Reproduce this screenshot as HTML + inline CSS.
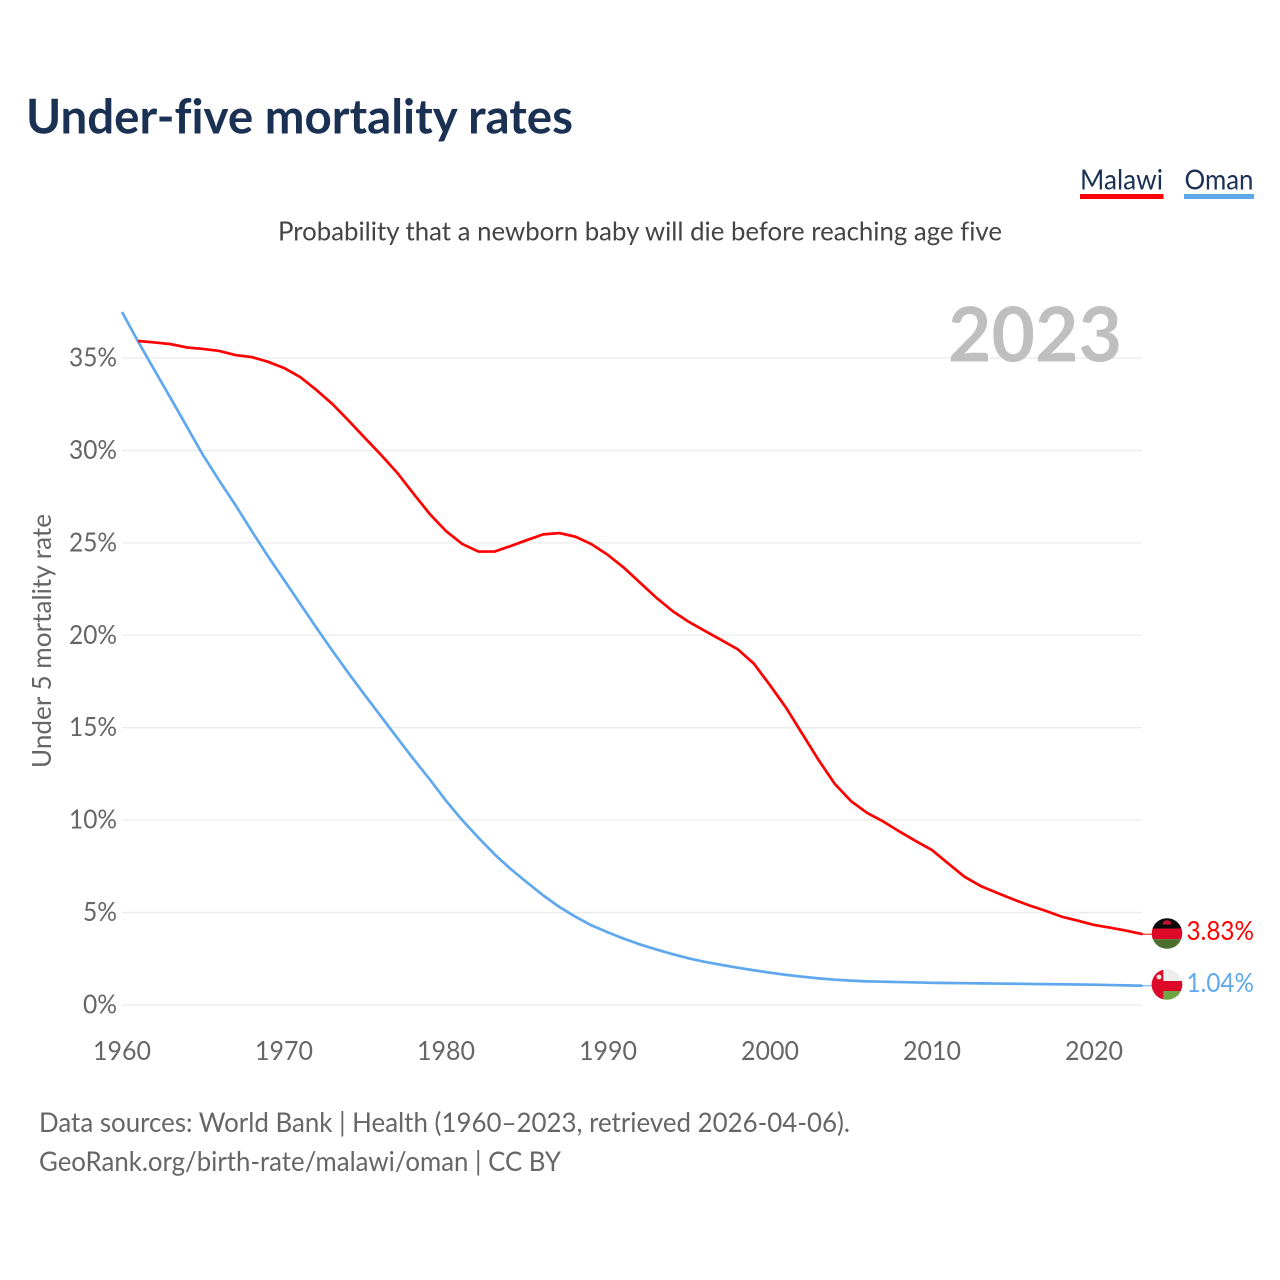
<!DOCTYPE html>
<html lang="en">
<head>
<meta charset="utf-8">
<title>Under-five mortality rates</title>
<style>
html,body{margin:0;padding:0;background:#fff;}
svg{display:block;font-family:"Lato","Carlito","Liberation Sans",sans-serif;font-variant-ligatures:none;}
</style>
</head>
<body>
<svg id="chart" xmlns="http://www.w3.org/2000/svg" width="1280" height="1280" viewBox="0 0 1280 1280">
  <defs>
    <clipPath id="clip-malawi"><circle cx="1167" cy="933.5" r="15.3"/></clipPath>
    <clipPath id="clip-oman"><circle cx="1167" cy="984.5" r="15.3"/></clipPath>
  </defs>
  <rect width="1280" height="1280" fill="#fff"/>
  <text x="26" y="133.5" font-size="48" font-weight="700" fill="#1a3153" textLength="547" lengthAdjust="spacingAndGlyphs">Under-five mortality rates</text>

  <text x="1080" y="189.5" font-size="28" fill="#1a3153" textLength="83" lengthAdjust="spacingAndGlyphs">Malawi</text>
  <rect x="1080" y="194" width="83.5" height="5" fill="#ff0000"/>
  <text x="1184.5" y="189.5" font-size="28" fill="#1a3153" textLength="69" lengthAdjust="spacingAndGlyphs">Oman</text>
  <rect x="1184" y="194" width="70" height="5" fill="#5fa8ee"/>

  <text x="278" y="240.5" font-size="26.5" fill="#444" textLength="724" lengthAdjust="spacingAndGlyphs">Probability that a newborn baby will die before reaching age five</text>

  <g id="grid"></g>
  <text x="948" y="361.5" font-size="76" font-weight="700" fill="#bfbfbf" textLength="174" lengthAdjust="spacingAndGlyphs">2023</text>
  <g id="y-ticks"></g>
  <g id="x-ticks"></g>
  <text transform="translate(51,768) rotate(-90)" x="0" y="0" font-size="26.5" fill="#666" textLength="254" lengthAdjust="spacingAndGlyphs">Under 5 mortality rate</text>

  <g id="series"></g>

  <g clip-path="url(#clip-malawi)">
    <rect x="1150" y="917" width="34" height="11.5" fill="#0b0b0b"/>
    <rect x="1150" y="928.5" width="34" height="10.7" fill="#dc0a28"/>
    <rect x="1150" y="939.2" width="34" height="11" fill="#4d6f2d"/>
    <path d="M1162.5 924.5 L1163.5 921.5 L1167 920 L1170.5 921.5 L1171.5 924.5 Z" fill="#c8102e"/>
  </g>
  <g clip-path="url(#clip-oman)">
    <rect x="1150" y="968" width="34" height="13" fill="#eeeeee"/>
    <rect x="1150" y="981" width="34" height="10" fill="#dc0a28"/>
    <rect x="1150" y="991" width="34" height="11" fill="#6fa544"/>
    <rect x="1150" y="968" width="13.3" height="34" fill="#dc0a28"/>
    <circle cx="1159" cy="977" r="2.4" fill="#f3e6e6"/>
  </g>

  <text x="1186.5" y="940" font-size="26.5" fill="#ff0000" textLength="67.5" lengthAdjust="spacingAndGlyphs">3.83%</text>
  <text x="1186.5" y="992" font-size="26.5" fill="#5fa8ee" textLength="67.5" lengthAdjust="spacingAndGlyphs">1.04%</text>

  <text x="39" y="1132" font-size="27.5" fill="#666" textLength="811" lengthAdjust="spacingAndGlyphs">Data sources: World Bank | Health (1960–2023, retrieved 2026-04-06).</text>
  <text x="39" y="1171" font-size="27.5" fill="#666" textLength="522" lengthAdjust="spacingAndGlyphs">GeoRank.org/birth-rate/malawi/oman | CC BY</text>
</svg>
<script>
const yTickValues = [0, 5, 10, 15, 20, 25, 30, 35];
const xTickYears = [1960, 1970, 1980, 1990, 2000, 2010, 2020];
const malawiStartYear = 1961;
const malawiValues = [35.92,35.84,35.75,35.57,35.49,35.38,35.16,35.05,34.8,34.46,33.97,33.27,32.5,31.6,30.67,29.75,28.78,27.65,26.56,25.64,24.94,24.53,24.53,24.83,25.15,25.46,25.53,25.33,24.92,24.34,23.64,22.83,22.02,21.3,20.72,20.23,19.74,19.25,18.47,17.3,16.07,14.66,13.25,11.96,11.03,10.39,9.92,9.38,8.87,8.38,7.66,6.94,6.44,6.07,5.72,5.39,5.1,4.78,4.56,4.33,4.18,4.02,3.83];
const omanStartYear = 1960;
const omanValues = [37.49,35.88,34.35,32.83,31.29,29.75,28.37,27.05,25.65,24.29,23.0,21.7,20.41,19.15,17.93,16.75,15.6,14.44,13.3,12.2,11.05,10.0,9.05,8.15,7.35,6.63,5.93,5.3,4.77,4.3,3.93,3.58,3.27,3.0,2.75,2.52,2.33,2.17,2.02,1.88,1.75,1.63,1.53,1.44,1.37,1.32,1.28,1.26,1.24,1.22,1.2,1.19,1.18,1.17,1.16,1.15,1.14,1.13,1.12,1.11,1.1,1.08,1.06,1.04];

const NS = 'http://www.w3.org/2000/svg';
const xOf = function (year) { return 122 + (year - 1960) * 16.2; };
const yOf = function (pct) { return 1005 - pct * 18.486; };
const gridG = document.getElementById('grid');
const yG = document.getElementById('y-ticks');
const xG = document.getElementById('x-ticks');
const seriesG = document.getElementById('series');

yTickValues.forEach(function (v) {
  const line = document.createElementNS(NS, 'line');
  line.setAttribute('x1', 122);
  line.setAttribute('x2', 1142);
  line.setAttribute('y1', yOf(v));
  line.setAttribute('y2', yOf(v));
  line.setAttribute('stroke', '#ebebeb');
  line.setAttribute('stroke-width', 1.3);
  
  
  gridG.appendChild(line);

  const t = document.createElementNS(NS, 'text');
  t.textContent = v + '%';
  t.setAttribute('x', 117);
  t.setAttribute('y', yOf(v) + 8.5);
  t.setAttribute('text-anchor', 'end');
  t.setAttribute('font-size', 26.5);
  t.setAttribute('fill', '#666');
  t.setAttribute('textLength', v < 10 ? 34 : 48);
  t.setAttribute('lengthAdjust', 'spacingAndGlyphs');
  
  
  yG.appendChild(t);
});

xTickYears.forEach(function (y) {
  const t = document.createElementNS(NS, 'text');
  t.textContent = String(y);
  t.setAttribute('x', xOf(y));
  t.setAttribute('y', 1060);
  t.setAttribute('text-anchor', 'middle');
  t.setAttribute('font-size', 26.5);
  t.setAttribute('fill', '#666');
  t.setAttribute('textLength', 58);
  t.setAttribute('lengthAdjust', 'spacingAndGlyphs');
  
  
  xG.appendChild(t);
});

function pathFrom(startYear, values) {
  return values.map(function (v, i) {
    return (i ? 'L' : 'M') + xOf(startYear + i).toFixed(2) + ' ' + yOf(v).toFixed(2);
  }).join(' ');
}

const omanLine = document.createElementNS(NS, 'path');
omanLine.setAttribute('d', pathFrom(omanStartYear, omanValues));
omanLine.setAttribute('fill', 'none');
omanLine.setAttribute('stroke', '#5fa8ee');
omanLine.setAttribute('stroke-width', 2.7);
omanLine.setAttribute('stroke-linejoin', 'round');


seriesG.appendChild(omanLine);

const malawiLine = document.createElementNS(NS, 'path');
malawiLine.setAttribute('d', pathFrom(malawiStartYear, malawiValues));
malawiLine.setAttribute('fill', 'none');
malawiLine.setAttribute('stroke', '#ff0000');
malawiLine.setAttribute('stroke-width', 2.7);
malawiLine.setAttribute('stroke-linejoin', 'round');


seriesG.appendChild(malawiLine);

const malawiLeader = document.createElementNS(NS, 'line');
malawiLeader.setAttribute('x1', xOf(2023));
malawiLeader.setAttribute('x2', 1153);
malawiLeader.setAttribute('y1', yOf(malawiValues[malawiValues.length - 1]));
malawiLeader.setAttribute('y2', yOf(malawiValues[malawiValues.length - 1]));
malawiLeader.setAttribute('stroke', '#ff0000');
malawiLeader.setAttribute('stroke-width', 1);


seriesG.appendChild(malawiLeader);

const omanLeader = document.createElementNS(NS, 'line');
omanLeader.setAttribute('x1', xOf(2023));
omanLeader.setAttribute('x2', 1153);
omanLeader.setAttribute('y1', yOf(omanValues[omanValues.length - 1]));
omanLeader.setAttribute('y2', yOf(omanValues[omanValues.length - 1]));
omanLeader.setAttribute('stroke', '#5fa8ee');
omanLeader.setAttribute('stroke-width', 1);


seriesG.appendChild(omanLeader);
</script>
</body>
</html>
